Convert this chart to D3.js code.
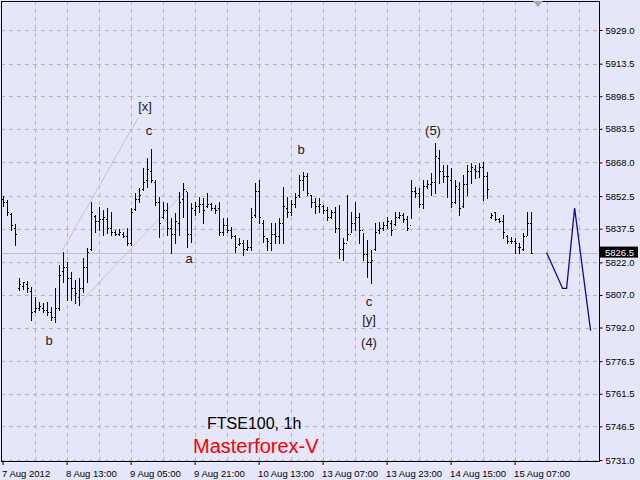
<!DOCTYPE html>
<html><head><meta charset="utf-8">
<script src="https://cdn.jsdelivr.net/npm/d3@7"></script>
<style>
html,body{margin:0;padding:0;background:#E6E6FA;}
svg{display:block;font-family:"Liberation Sans",Arial,sans-serif;}
</style></head>
<body>
<svg id="c" width="640" height="480"></svg>
<script>
// ---- data (FTSE100, 1h bars) ----
const opens  = [5851,5850,5844.5,5838,5810,5811,5812,5809,5799.5,5801,5801,5800,5799,5797,5801,5818,5820,5815,5810,5806,5810,5820,5828,5843.5,5841,5842,5842,5838,5836,5835,5835,5834,5831,5846.5,5851,5856,5860,5864,5859,5850,5843,5846,5838,5835,5840,5851,5855,5835,5846,5848,5849,5848,5849,5847,5847,5836,5839,5837,5834,5830.5,5831,5828,5829,5844,5855,5840,5833,5831,5835,5834,5840,5847,5845,5849,5853,5860,5862,5853,5850,5848,5848,5846,5843,5845,5838,5828,5831,5835,5840,5843,5837,5826,5822,5828,5837,5838,5839,5840,5839.5,5843,5844,5842,5839,5855,5854,5849,5857,5858,5859,5870,5864,5862,5860,5850,5856,5848,5858,5864,5865,5864,5866,5862,5843,5845,5842,5841,5834,5832,5832,5829,5828,5834,5840];
const highs  = [5852.6,5850.7,5844.7,5839.7,5814.8,5813.0,5813.4,5810.7,5806.0,5803.8,5803.3,5803.8,5801.5,5810.2,5820.8,5826.8,5822.2,5817.6,5813.9,5814.8,5824.0,5828.6,5849.8,5843.8,5847.5,5846.1,5847.0,5845.2,5836.9,5837.4,5836.0,5837.8,5847.0,5853.9,5856.2,5865.5,5870.1,5874.2,5859.9,5852.1,5849.8,5849.3,5842.4,5844.7,5854.4,5858.5,5854.4,5849.3,5849.8,5852.1,5851.6,5853.9,5849.3,5848.4,5849.8,5842.4,5842.4,5838.3,5834.6,5833.2,5832.3,5832.3,5847.0,5858.5,5859.9,5841.5,5833.2,5840.1,5840.1,5842.4,5856.7,5852.1,5850.7,5853.9,5862.2,5863.6,5863.2,5853.0,5851.6,5851.6,5848.4,5847.5,5846.1,5847.5,5848.4,5833.2,5853.0,5845.2,5849.8,5844.7,5835.5,5832.3,5827.7,5840.1,5840.6,5840.6,5842.9,5841.5,5845.2,5845.2,5844.7,5843.3,5859.9,5856.7,5856.2,5859.9,5859.9,5863.2,5877.0,5873.8,5866.8,5866.8,5865.5,5859.9,5859.0,5862.2,5866.8,5867.7,5866.8,5867.7,5868.2,5863.6,5844.7,5845.2,5842.4,5843.8,5834.6,5833.7,5833.2,5830.9,5835.5,5845.2,5845.2];
const lows   = [5848.0,5843.8,5836.9,5830.0,5809.3,5809.7,5808.4,5795.5,5799.2,5800.1,5799.2,5797.8,5795.5,5794.5,5800.1,5813.0,5804.7,5804.7,5803.3,5802.4,5808.4,5813.0,5827.7,5836.0,5836.9,5834.6,5835.5,5834.6,5834.6,5834.6,5833.7,5830.0,5830.0,5846.1,5849.8,5855.3,5856.7,5859.0,5848.5,5833.7,5842.4,5834.6,5826.3,5830.9,5834.6,5842.9,5829.1,5831.4,5843.8,5845.2,5840.1,5847.5,5846.1,5844.7,5834.6,5834.6,5836.0,5833.2,5826.8,5830.0,5825.4,5827.7,5827.7,5842.9,5840.1,5831.4,5827.7,5827.7,5830.9,5830.9,5830.9,5843.0,5843.8,5847.5,5852.1,5855.3,5853.0,5847.5,5844.7,5845.2,5844.7,5841.5,5842.4,5836.0,5824.0,5823.1,5832.3,5836.0,5836.9,5830.9,5823.1,5815.3,5812.5,5827.7,5835.5,5836.9,5837.8,5834.6,5839.2,5842.4,5840.6,5836.9,5842.4,5852.1,5847.5,5847.0,5856.2,5853.0,5854.0,5858.5,5859.0,5852.1,5847.5,5849.3,5843.8,5847.5,5853.0,5858.5,5860.9,5861.3,5850.7,5851.6,5842.4,5841.5,5840.6,5833.2,5830.9,5830.9,5826.3,5826.3,5827.7,5834.6,5826.5];
const closes = [5850,5845,5839,5835,5812,5813,5810,5799,5801,5802,5800,5799,5797,5801,5816,5820,5815,5810,5808,5810,5820,5827,5845,5841,5842,5843,5838,5836,5835,5836,5834,5831,5845,5851,5853,5859,5865,5860,5850,5840,5846,5838,5835,5841,5850,5856,5835,5847,5848,5849,5846,5849,5847,5846,5836,5839,5837,5834,5829,5831,5828,5829,5843,5855,5843,5834,5832,5835,5834,5840,5848,5845,5849,5852,5860,5862,5854,5850,5848,5849,5846,5843,5845,5838,5828,5831,5835,5840,5843,5837,5826,5822,5823,5836,5838,5839,5841,5837,5843,5844,5842,5838,5855,5854,5849,5857,5858,5859,5871,5864,5862,5862,5850,5857,5847,5858,5864,5866,5864,5866,5862,5856,5844,5842,5841,5836,5832,5832,5831,5829,5834,5840,5826.5];
const lastPrice = 5826.5;
// forecast path: [bar index, price]
const forecastBars   = [136, 140, 141, 143, 147];
const forecastPrices = [5826.5, 5810, 5810, 5847, 5790.5];
// channel lines: [bar index, price] pairs
const channelUpper = [[14.85, 5827.2], [33.85, 5888.5]];
const channelLower = [[18.9, 5802.4], [46.85, 5857.2]];
// wave labels
const waveTexts  = ["[x]", "c", "b", "a", "b", "(5)", "c", "[y]", "(4)"];
const waveBars   = [35.6, 36.6, 11.6, 46.6, 74.6, 107.6, 91.6, 91.6, 91.6];
const wavePrices = [5893.6, 5882.5, 5785.8, 5823.6, 5874.2, 5882.5, 5804.2, 5795.5, 5785.3];
// axes
const yTicks = [5929.0, 5913.5, 5898.5, 5883.5, 5868.0, 5852.5, 5837.5, 5822.0, 5807.0, 5792.0, 5776.5, 5761.5, 5746.5, 5731.0];
const xTickBars = [0, 16, 32, 48, 64, 80, 96, 112, 128];
const xTickLabels = ["7 Aug 2012", "8 Aug 13:00", "9 Aug 05:00", "9 Aug 21:00", "10 Aug 13:00", "13 Aug 07:00", "13 Aug 23:00", "14 Aug 15:00", "15 Aug 07:00"];
const gridBars = d3.range(8, 145, 8);

// ---- drawing ----
const svg = d3.select("#c");
const L = 1, R = 599, T = 1, B = 461;
const x = d3.scaleLinear().domain([0, 144]).range([2.6, 578.6]);
const y = d3.scaleLinear().domain([5731, 5929]).range([460, 30]);
const px = v => Math.round(v) + 0.5;

svg.append("rect").attr("width", 640).attr("height", 480).attr("fill", "#E6E6FA");

// grid
const g = svg.append("g").attr("stroke", "#B4B4BE").attr("stroke-dasharray", "4,4").attr("stroke-width", 1);
g.selectAll(".hg").data(yTicks).join("line")
  .attr("x1", L).attr("x2", R).attr("y1", d => px(y(d))).attr("y2", d => px(y(d)));
g.selectAll(".vg").data(gridBars).join("line")
  .attr("y1", T).attr("y2", B).attr("x1", d => px(x(d))).attr("x2", d => px(x(d)));

// bid line
svg.append("line").attr("x1", L).attr("x2", R).attr("y1", px(y(lastPrice))).attr("y2", px(y(lastPrice)))
  .attr("stroke", "#C0C0C0").attr("stroke-width", 1);

// channel lines
[channelUpper, channelLower].forEach(c => {
  svg.append("line").attr("x1", x(c[0][0])).attr("y1", y(c[0][1])).attr("x2", x(c[1][0])).attr("y2", y(c[1][1]))
    .attr("stroke", "#C4C4C8").attr("stroke-width", 1);
});

// OHLC bars
const bars = svg.append("g").attr("stroke", "#000").attr("stroke-width", 1).attr("shape-rendering", "crispEdges");
const idx = d3.range(highs.length);
bars.selectAll(".hl").data(idx).join("line")
  .attr("x1", i => px(x(i))).attr("x2", i => px(x(i)))
  .attr("y1", i => Math.round(y(highs[i]))).attr("y2", i => Math.round(y(lows[i])) + 1);
bars.selectAll(".op").data(idx).join("line")
  .attr("x1", i => Math.round(x(i)) - 1).attr("x2", i => Math.round(x(i)))
  .attr("y1", i => px(y(opens[i]))).attr("y2", i => px(y(opens[i])));
bars.selectAll(".cl").data(idx).join("line")
  .attr("x1", i => Math.round(x(i)) + 1).attr("x2", i => Math.round(x(i)) + 2)
  .attr("y1", i => px(y(closes[i]))).attr("y2", i => px(y(closes[i])));

// forecast
const fpts = forecastBars.map((b, k) => [x(b), y(forecastPrices[k])]);
svg.append("path").attr("d", d3.line()(fpts)).attr("fill", "none")
  .attr("stroke", "#0A0AA0").attr("stroke-width", 1.3);

// wave labels
svg.selectAll(".wl").data(waveTexts).join("text")
  .attr("x", (d, k) => x(waveBars[k])).attr("y", (d, k) => y(wavePrices[k]))
  .attr("text-anchor", "middle").attr("dominant-baseline", "central")
  .attr("font-size", 13).attr("fill", "#202020").text(d => d);

// border
svg.append("rect").attr("x", L + 0.5).attr("y", T + 0.5).attr("width", R - L).attr("height", B - T)
  .attr("fill", "none").attr("stroke", "#000").attr("stroke-width", 1);

// y axis
const ya = d3.axisRight(y).tickValues(yTicks).tickFormat(d3.format(".1f")).tickSize(3).tickPadding(3);
const yg = svg.append("g").attr("transform", `translate(${R + 0.5},0)`).call(ya);
yg.select(".domain").remove();
yg.selectAll("text").attr("font-size", 9.5).attr("font-family", "'Liberation Sans',Arial,sans-serif").attr("fill", "#000");
yg.selectAll("line").attr("stroke", "#000");

// x axis
const xa = d3.axisBottom(x).tickValues(xTickBars).tickFormat((d, k) => xTickLabels[k]).tickSize(4).tickPadding(3);
const xg = svg.append("g").attr("transform", `translate(0,${B})`).call(xa);
xg.select(".domain").remove();
xg.selectAll("text").attr("font-size", 9.5).attr("font-family", "'Liberation Sans',Arial,sans-serif")
  .attr("fill", "#000").attr("text-anchor", "start").attr("dx", -1).attr("dy", "0.9em");
xg.selectAll("line").attr("stroke", "#000");

// last price tag
const ly = y(lastPrice);
svg.append("rect").attr("x", R).attr("y", ly - 6).attr("width", 39).attr("height", 11).attr("fill", "#000");
svg.append("text").attr("x", R + 6).attr("y", ly).attr("dominant-baseline", "central")
  .attr("font-size", 9.5).attr("fill", "#fff").text(d3.format(".1f")(lastPrice));

// shift marker
svg.append("path").attr("d", "M533,1 L543,1 L538,7 Z").attr("fill", "#A8A8A8");

// titles
svg.append("text").attr("x", 207).attr("y", 429).attr("font-size", 16).attr("fill", "#000").text("FTSE100, 1h");
svg.append("text").attr("x", 193).attr("y", 453).attr("font-size", 20).attr("fill", "#FF0000").text("Masterforex-V");
</script>
</body></html>
